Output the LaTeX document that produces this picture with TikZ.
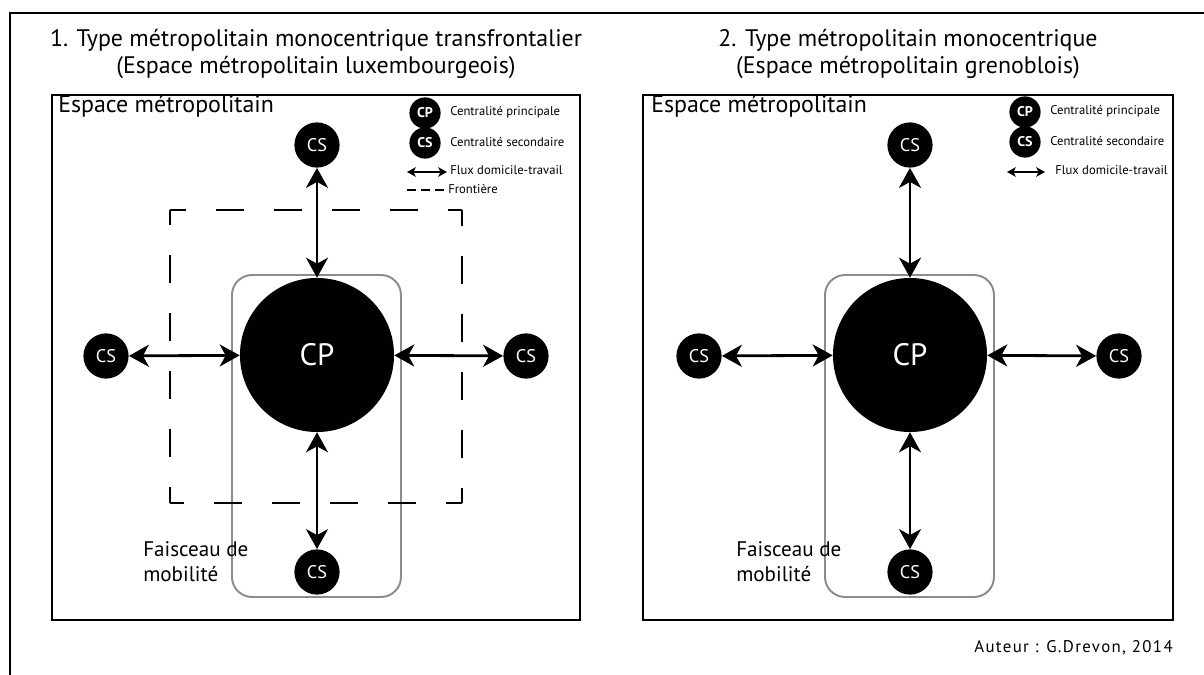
\documentclass[tikz,border=0pt]{standalone}
\usepackage{fontspec}
\setmainfont{PT Sans}
\usetikzlibrary{arrows.meta}
\definecolor{faisgray}{HTML}{8C8C8C}

\begin{document}
\begin{tikzpicture}[x=0.025cm,y=-0.025cm,
  panel/.style={draw=black,line width=2pt},
  cpdisc/.style={circle,fill=black,text=white,minimum size=3.85cm,inner sep=0pt,
    font=\fontsize{22}{24}\selectfont},
  csdisc/.style={circle,fill=black,text=white,minimum size=1.13cm,inner sep=0pt,
    font=\fontsize{13}{15}\selectfont},
  legdisc/.style={circle,fill=black,text=white,minimum size=0.78cm,inner sep=0pt,
    font=\fontsize{10}{12}\selectfont\bfseries},
  legtext/.style={anchor=west,inner sep=0pt,font=\fontsize{9}{11}\selectfont},
  flux/.style={line width=2pt,{Stealth[length=0.5cm,width=0.55cm,inset=0.15cm]}-{Stealth[length=0.5cm,width=0.55cm,inset=0.15cm]}},
  legflux/.style={line width=1pt,{Stealth[length=0.22cm,width=0.24cm,inset=0.06cm]}-{Stealth[length=0.22cm,width=0.24cm,inset=0.06cm]}},
  frontier/.style={line width=2pt,dash pattern=on 0.7cm off 0.75cm,dash phase=0.3cm},
  faisceau/.style={draw=faisgray,line width=1.4pt,rounded corners=0.5cm},
  titre/.style={align=center,inner sep=0pt,font=\fontsize{17}{19.5}\selectfont},
  espace/.style={anchor=base west,inner sep=0pt,font=\fontsize{17}{19}\selectfont},
  mobil/.style={anchor=west,align=left,inner sep=0pt,font=\fontsize{15}{17.8}\selectfont}]
  \useasboundingbox (0,0) rectangle (1204,675);
  % cadre general
  \draw[line width=2pt] (1204,13) -- (10,13) -- (10,675);

  % 1. type transfrontalier
  \draw[panel] (52,95) rectangle (580,620);
  \node[titre] (titreA) at (316,54) {1. Type métropolitain monocentrique transfrontalier\\(Espace métropolitain luxembourgeois)};
  \node[espace] (espA) at (58,113) {Espace métropolitain};
  \draw[faisceau] (232,275) rectangle (401,597);
  \draw[frontier] (170,210) -- (462,210);
  \draw[frontier] (462,210) -- (462,503);
  \draw[frontier] (462,503) -- (170,503);
  \draw[frontier] (170,503) -- (170,210);
  \node[cpdisc] (cpA) at (317,355) {CP};
  \node[csdisc] (csAn) at (317,145) {CS};
  \node[csdisc] (csAw) at (106,356) {CS};
  \node[csdisc] (csAe) at (526,356) {CS};
  \node[csdisc] (csAs) at (317,572) {CS};
  \draw[flux] (csAn) -- (cpA);
  \draw[flux] (csAw) -- (cpA);
  \draw[flux] (csAe) -- (cpA);
  \draw[flux] (csAs) -- (cpA);
  \node[mobil] (mobA) at (143,562) {Faisceau de\\mobilité};
  % legende
  \node[legdisc] (legcpA) at (425,113) {CP};
  \node[legdisc] (legcsA) at (425,143) {CS};
  \node[legtext] (legcptA) at (450,112) {Centralité principale};
  \node[legtext] (legcstA) at (450,142) {Centralité secondaire};
  \coordinate (legfluxAa) at (407,172);
  \coordinate (legfluxAb) at (447,172);
  \draw[legflux] (legfluxAa) -- (legfluxAb);
  \node[legtext] (legfluxtA) at (450,170) {Flux domicile-travail};
  \coordinate (legfrAa) at (407,190);
  \coordinate (legfrAb) at (446,190);
  \draw[line width=1.5pt,dash pattern=on 0.22cm off 0.13cm] (legfrAa) -- (legfrAb);
  \node[legtext] (legfrtA) at (448,189) {Frontière};

  % 2. type monocentrique
  \draw[panel] (643,95) rectangle (1173,620);
  \node[titre] (titreB) at (908,54) {2. Type métropolitain monocentrique\\(Espace métropolitain grenoblois)};
  \node[espace] (espB) at (651,113) {Espace métropolitain};
  \draw[faisceau] (825,275) rectangle (994,597);
  \node[cpdisc] (cpB) at (910,355) {CP};
  \node[csdisc] (csBn) at (910,145) {CS};
  \node[csdisc] (csBw) at (699,356) {CS};
  \node[csdisc] (csBe) at (1119,356) {CS};
  \node[csdisc] (csBs) at (910,572) {CS};
  \draw[flux] (csBn) -- (cpB);
  \draw[flux] (csBw) -- (cpB);
  \draw[flux] (csBe) -- (cpB);
  \draw[flux] (csBs) -- (cpB);
  \node[mobil] (mobB) at (736,562) {Faisceau de\\mobilité};
  % legende
  \node[legdisc] (legcpB) at (1025,112) {CP};
  \node[legdisc] (legcsB) at (1025,142) {CS};
  \node[legtext] (legcptB) at (1050,111) {Centralité principale};
  \node[legtext] (legcstB) at (1050,141) {Centralité secondaire};
  \coordinate (legfluxBa) at (1007,172);
  \coordinate (legfluxBb) at (1045,172);
  \draw[legflux] (legfluxBa) -- (legfluxBb);
  \node[legtext] (legfluxtB) at (1055,170) {Flux domicile-travail};

  \node[anchor=base east,inner sep=0pt,font=\fontsize{12}{14}\selectfont\addfontfeature{LetterSpace=8}] (auteur) at (1173,652) {Auteur : G.Drevon, 2014};
\end{tikzpicture}
\end{document}
